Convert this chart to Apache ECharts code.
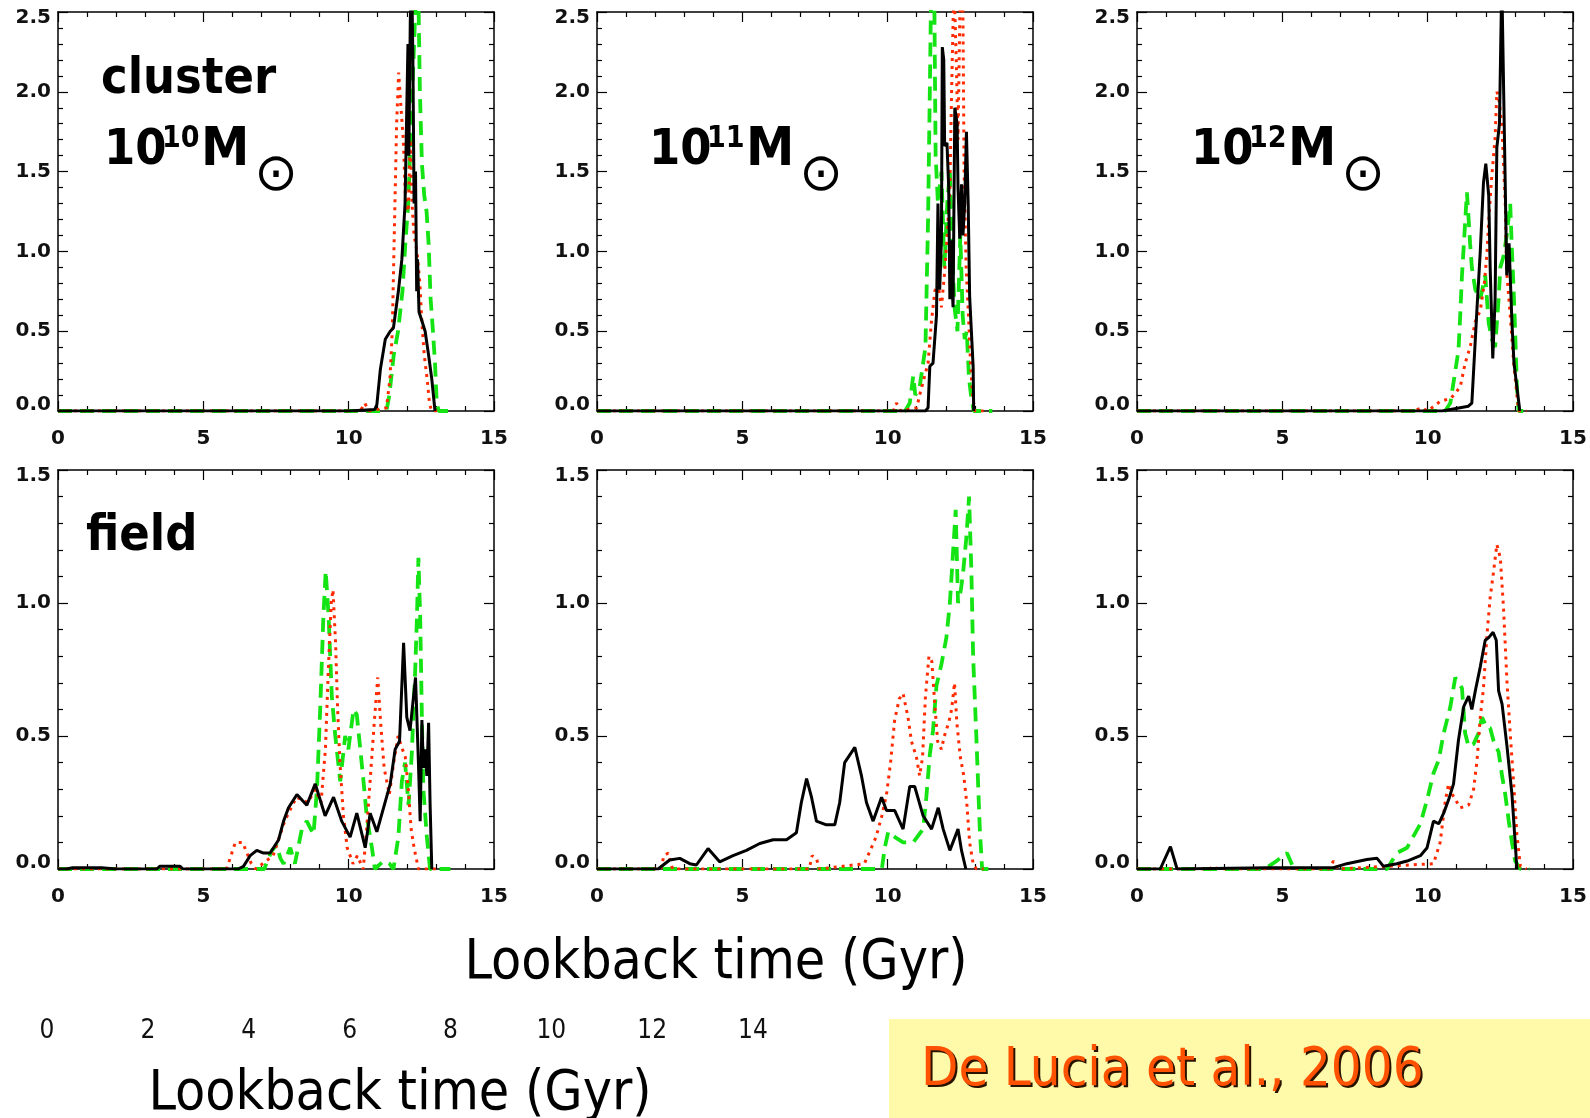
<!DOCTYPE html>
<html>
<head>
<meta charset="utf-8">
<script src="https://cdn.jsdelivr.net/npm/echarts@6/dist/echarts.min.js"></script>
<style>
html,body{margin:0;padding:0;background:#fff;}
#chart{width:1590px;height:1118px;}
</style>
</head>
<body>
<div id="chart"></div>
<script>
// ---------- data (lookback time Gyr, SFR-like normalized values) ----------
const xTicksMain = [0, 5, 10, 15];
const xTicksLower = [0, 2, 4, 6, 8, 10, 12, 14];

const c10_black = [[0,0],[10.0,0],[10.9,0.01],[10.97,0.04],[11.09,0.26],[11.26,0.45],[11.43,0.5],[11.54,0.52],[11.71,0.75],[11.83,0.95],[11.94,1.3],[12.0,1.9],[12.04,2.3],[12.07,1.6],[12.12,2.45],[12.17,2.7],[12.21,2.2],[12.25,1.3],[12.3,1.5],[12.34,0.75],[12.37,0.95],[12.42,0.62],[12.51,0.57],[12.63,0.5],[12.75,0.35],[12.86,0.2],[12.97,0]];
const c10_red = [[0,0],[10.4,0],[10.55,0.05],[10.7,0],[11.3,0.02],[11.42,0.2],[11.5,0.5],[11.58,1.2],[11.65,1.8],[11.72,2.12],[11.8,1.9],[11.88,1.7],[11.95,1.35],[12.05,1.25],[12.12,1.7],[12.18,1.3],[12.25,1.1],[12.35,1.0],[12.45,0.8],[12.52,0.55],[12.6,0.35],[12.7,0.2],[12.78,0.05],[12.85,0],[13.2,0]];
const c10_green = [[0,0],[11.3,0],[11.4,0.1],[11.55,0.35],[11.7,0.5],[11.85,0.75],[11.95,1.05],[12.05,1.3],[12.15,1.8],[12.25,2.3],[12.33,2.7],[12.4,2.6],[12.45,2.0],[12.52,1.55],[12.6,1.35],[12.68,1.25],[12.75,1.05],[12.82,0.7],[12.9,0.5],[12.97,0.3],[13.03,0.05],[13.1,0],[13.6,0]];

const c11_black = [[0,0],[11.3,0],[11.39,0.02],[11.45,0.28],[11.56,0.3],[11.68,0.6],[11.73,1.3],[11.79,0.76],[11.85,1.08],[11.88,2.28],[11.93,2.2],[11.96,1.66],[12.04,1.68],[12.1,1.4],[12.14,0.7],[12.19,1.07],[12.22,0.77],[12.25,0.65],[12.31,1.9],[12.39,1.8],[12.42,1.4],[12.48,1.08],[12.54,1.42],[12.59,1.1],[12.65,1.3],[12.71,1.75],[12.77,1.3],[12.82,0.72],[12.88,0.5],[12.94,0.28],[12.96,0]];
const c11_red = [[0,0],[10.2,0],[10.3,0.05],[10.45,0],[11.0,0.02],[11.1,0.1],[11.39,0.3],[11.5,0.55],[11.62,0.75],[11.73,0.8],[11.85,0.65],[11.95,0.85],[12.05,1.1],[12.14,1.4],[12.2,2.0],[12.28,2.7],[12.36,2.2],[12.42,1.7],[12.5,2.7],[12.58,2.7],[12.63,1.5],[12.7,0.9],[12.78,0.6],[12.85,0.3],[12.92,0.1],[13.0,0],[13.3,0]];
const c11_green = [[0,0],[10.6,0],[10.76,0.05],[10.88,0.22],[10.95,0.1],[11.1,0.15],[11.22,0.3],[11.3,0.4],[11.39,1.2],[11.45,2.0],[11.5,2.7],[11.6,2.7],[11.65,1.6],[11.73,1.3],[11.85,1.5],[11.95,0.9],[12.05,1.3],[12.14,1.5],[12.22,1.0],[12.3,0.65],[12.4,0.5],[12.5,1.1],[12.58,0.6],[12.65,0.45],[12.72,0.5],[12.8,0.2],[12.88,0.08],[12.96,0],[13.6,0]];

const c12_black = [[0,0],[10.5,0],[10.55,0.01],[11.4,0.03],[11.52,0.05],[11.58,0.25],[11.69,0.62],[11.81,1.0],[11.92,1.43],[12.0,1.55],[12.1,1.35],[12.15,0.9],[12.24,0.33],[12.32,0.7],[12.38,1.65],[12.47,1.8],[12.55,2.7],[12.61,2.7],[12.67,1.4],[12.72,0.85],[12.8,1.05],[12.9,0.55],[12.97,0.3],[13.07,0.15],[13.17,0]];
const c12_red = [[0,0],[9.5,0],[9.8,0.02],[10.0,0],[10.43,0.06],[10.8,0.08],[11.12,0.15],[11.29,0.3],[11.46,0.4],[11.64,0.56],[11.81,0.63],[11.95,0.8],[12.04,0.99],[12.12,1.25],[12.21,1.48],[12.32,1.71],[12.38,2.0],[12.44,1.97],[12.55,1.8],[12.67,1.3],[12.72,0.87],[12.84,0.6],[12.96,0.3],[13.07,0.1],[13.13,0],[13.4,0]];
const c12_green = [[0,0],[10.6,0],[10.78,0.05],[10.95,0.25],[11.06,0.38],[11.12,0.6],[11.18,0.85],[11.24,1.03],[11.35,1.37],[11.41,1.2],[11.46,1.05],[11.52,0.9],[11.64,0.76],[11.81,0.7],[11.98,0.85],[12.1,0.55],[12.21,0.45],[12.32,0.4],[12.44,0.7],[12.5,0.9],[12.61,0.97],[12.72,1.1],[12.84,1.3],[12.9,1.0],[12.96,0.75],[13.01,0.5],[13.07,0.15],[13.13,0],[13.5,0]];

const f10_black = [[0,0],[0.3,0],[0.5,0.005],[1.5,0.005],[2.0,0],[3.4,0],[3.5,0.01],[4.2,0.01],[4.3,0],[6.2,0],[6.38,0.01],[6.61,0.05],[6.84,0.07],[7.07,0.06],[7.3,0.06],[7.59,0.11],[7.76,0.18],[7.93,0.23],[8.22,0.28],[8.56,0.24],[8.85,0.32],[9.19,0.2],[9.48,0.27],[9.76,0.18],[10.05,0.12],[10.28,0.21],[10.57,0.08],[10.74,0.21],[10.97,0.14],[11.2,0.23],[11.43,0.32],[11.6,0.45],[11.75,0.48],[11.89,0.85],[12.0,0.57],[12.11,0.52],[12.3,0.72],[12.4,0.4],[12.46,0.18],[12.52,0.56],[12.57,0.38],[12.63,0.45],[12.69,0.35],[12.75,0.55],[12.8,0.25],[12.86,0]];
const f10_red = [[0,0],[5.8,0],[5.95,0.05],[6.1,0.1],[6.35,0.1],[6.5,0.06],[6.65,0.02],[6.8,0],[7.4,0.05],[7.8,0.18],[8.2,0.27],[8.6,0.25],[8.85,0.3],[9.05,0.25],[9.2,0.45],[9.3,0.75],[9.4,1.0],[9.46,1.05],[9.55,0.85],[9.62,0.6],[9.7,0.4],[9.82,0.2],[9.95,0.08],[10.15,0.02],[10.3,0.05],[10.5,0.0],[10.62,0.15],[10.75,0.35],[10.88,0.55],[11.0,0.72],[11.1,0.55],[11.22,0.38],[11.4,0.28],[11.55,0.4],[11.7,0.5],[11.85,0.45],[11.95,0.42],[12.05,0.3],[12.15,0.15],[12.25,0.08],[12.4,0.0],[13.0,0]];
const f10_green = [[0,0],[7.1,0],[7.2,0.03],[7.36,0.07],[7.53,0.09],[7.65,0.04],[7.76,0.02],[7.99,0.08],[8.15,0.02],[8.39,0.15],[8.56,0.18],[8.79,0.13],[8.91,0.3],[9.02,0.6],[9.13,0.95],[9.21,1.12],[9.31,0.95],[9.42,0.65],[9.54,0.5],[9.71,0.33],[9.88,0.5],[9.99,0.45],[10.17,0.6],[10.28,0.58],[10.4,0.45],[10.51,0.33],[10.62,0.2],[10.8,0.08],[10.9,0],[11.2,0.03],[11.4,0.02],[11.54,0],[11.71,0.12],[11.83,0.33],[11.94,0.4],[12.06,0.24],[12.17,0.43],[12.29,0.75],[12.35,0.95],[12.4,1.17],[12.46,0.95],[12.52,0.56],[12.57,0.3],[12.69,0.12],[12.8,0],[13.5,0]];

const f11_black = [[0,0],[2.1,0],[2.5,0.034],[2.85,0.04],[3.19,0.02],[3.42,0.015],[3.82,0.077],[4.22,0.027],[4.68,0.05],[5.14,0.07],[5.6,0.096],[6.06,0.11],[6.52,0.11],[6.86,0.136],[7.03,0.25],[7.21,0.34],[7.38,0.27],[7.55,0.18],[7.89,0.166],[8.18,0.166],[8.35,0.25],[8.52,0.4],[8.87,0.457],[9.1,0.35],[9.27,0.25],[9.5,0.18],[9.79,0.27],[9.96,0.22],[10.24,0.22],[10.53,0.15],[10.76,0.31],[10.93,0.31],[11.22,0.2],[11.51,0.15],[11.74,0.23],[11.91,0.15],[12.14,0.07],[12.42,0.15],[12.54,0.07],[12.69,0]];
const f11_red = [[0,0],[2.2,0],[2.3,0.05],[2.45,0.06],[2.6,0],[7.3,0],[7.4,0.05],[7.55,0.04],[7.65,0],[9.2,0.02],[9.4,0.07],[9.6,0.12],[9.8,0.2],[9.96,0.28],[10.1,0.4],[10.24,0.56],[10.4,0.64],[10.53,0.66],[10.7,0.57],[10.82,0.48],[10.99,0.42],[11.1,0.35],[11.2,0.42],[11.3,0.65],[11.42,0.8],[11.52,0.78],[11.62,0.62],[11.72,0.48],[11.85,0.45],[11.95,0.5],[12.1,0.55],[12.2,0.6],[12.3,0.7],[12.38,0.55],[12.5,0.42],[12.62,0.35],[12.72,0.25],[12.82,0.1],[12.94,0.02],[13.05,0],[13.3,0]];
const f11_green = [[0,0],[9.8,0],[9.9,0.08],[10.02,0.14],[10.25,0.12],[10.53,0.1],[10.88,0.1],[11.22,0.15],[11.33,0.27],[11.45,0.43],[11.56,0.52],[11.68,0.69],[11.85,0.77],[12.02,0.87],[12.14,1.0],[12.25,1.19],[12.34,1.35],[12.42,1.0],[12.52,1.05],[12.6,1.12],[12.71,1.25],[12.8,1.4],[12.88,1.12],[12.94,0.8],[13.05,0.5],[13.17,0.15],[13.25,0],[13.6,0]];

const f12_black = [[0,0],[0.8,0],[1.15,0.084],[1.38,0],[4.5,0.005],[6.76,0.005],[7.22,0.02],[7.91,0.036],[8.26,0.04],[8.48,0.01],[8.94,0.02],[9.29,0.03],[9.52,0.04],[9.75,0.05],[9.98,0.08],[10.2,0.18],[10.38,0.17],[10.55,0.21],[10.72,0.26],[10.89,0.32],[11.06,0.485],[11.24,0.61],[11.41,0.65],[11.52,0.6],[11.64,0.67],[11.81,0.76],[11.98,0.86],[12.1,0.87],[12.25,0.89],[12.36,0.86],[12.44,0.67],[12.56,0.62],[12.73,0.46],[12.9,0.28],[13.01,0.1],[13.07,0]];
const f12_red = [[0,0],[2.5,0],[2.6,0.01],[2.8,0],[6.6,0],[6.76,0.03],[6.9,0],[10.2,0.02],[10.43,0.1],[10.6,0.25],[10.72,0.32],[10.85,0.28],[11.12,0.23],[11.41,0.24],[11.58,0.3],[11.7,0.41],[11.81,0.57],[11.92,0.68],[12.04,0.88],[12.15,1.02],[12.27,1.12],[12.38,1.22],[12.5,1.17],[12.61,0.98],[12.73,0.7],[12.84,0.51],[12.96,0.32],[13.07,0.13],[13.19,0.01],[13.4,0]];
const f12_green = [[0,0],[4.4,0],[4.8,0.03],[5.04,0.05],[5.16,0.06],[5.4,0.0],[8.6,0],[8.94,0.06],[9.29,0.08],[9.75,0.17],[9.98,0.26],[10.2,0.36],[10.38,0.41],[10.55,0.51],[10.78,0.61],[10.95,0.72],[11.06,0.7],[11.18,0.68],[11.29,0.51],[11.41,0.46],[11.58,0.47],[11.75,0.51],[11.87,0.57],[12.04,0.53],[12.15,0.53],[12.27,0.48],[12.44,0.44],[12.56,0.35],[12.67,0.28],[12.79,0.18],[12.9,0.1],[13.01,0.03],[13.19,0],[13.5,0]];

const yMaxTop = 2.5, yMaxBottom = 1.5;

// ---------- layout / styles ----------
const COND = "'DejaVu Sans Condensed', 'DejaVu Sans', sans-serif";
const TICKFONT = "'DejaVu Sans', sans-serif";
const panels = [
  {b:c10_black, r:c10_red, g:c10_green, ymax:yMaxTop},
  {b:c11_black, r:c11_red, g:c11_green, ymax:yMaxTop},
  {b:c12_black, r:c12_red, g:c12_green, ymax:yMaxTop},
  {b:f10_black, r:f10_red, g:f10_green, ymax:yMaxBottom},
  {b:f11_black, r:f11_red, g:f11_green, ymax:yMaxBottom},
  {b:f12_black, r:f12_red, g:f12_green, ymax:yMaxBottom}
];
const colLeft = [58, 597, 1137];
const rowTop = [12, 470];
const PW = 436, PH = 399;

const axLine = {show:true, onZero:false, lineStyle:{color:'#000', width:1.5}};
const axTick = {show:true, inside:true, length:10, lineStyle:{color:'#000', width:1.2}};
const axMinor = {show:true, splitNumber:5, length:5, lineStyle:{color:'#000', width:1.2}};
const tickLabel = {fontSize:20, fontWeight:'bold', color:'#111', fontFamily:TICKFONT};

const grid = [], xAxis = [], yAxis = [], series = [];
panels.forEach((p, i) => {
  const col = i % 3, row = Math.floor(i / 3);
  grid.push({left:colLeft[col], top:rowTop[row], width:PW, height:PH, outerBoundsMode:'none', containLabel:false});
  ['bottom','top'].forEach((pos, k) => {
    xAxis.push({type:'value', gridIndex:i, position:pos, min:xTicksMain[0], max:xTicksMain[xTicksMain.length-1], interval:5,
      axisLine:axLine, axisTick:axTick, minorTick:axMinor, splitLine:{show:false}, minorSplitLine:{show:false},
      axisLabel:Object.assign({show:k===0, margin:18}, tickLabel)});
  });
  ['left','right'].forEach((pos, k) => {
    yAxis.push({type:'value', gridIndex:i, position:pos, min:0, max:p.ymax, interval:0.5,
      axisLine:axLine, axisTick:axTick, minorTick:axMinor, splitLine:{show:false}, minorSplitLine:{show:false},
      axisLabel:Object.assign({show:k===0, margin:7, lineHeight:12,
        formatter:v => v.toFixed(1), verticalAlignMinLabel:'bottom', verticalAlignMaxLabel:'top'}, tickLabel)});
  });
  const common = {type:'line', xAxisIndex:2*i, yAxisIndex:2*i, showSymbol:false, symbol:'none', clip:true, animation:false, silent:true};
  series.push(Object.assign({}, common, {data:p.g, lineStyle:{color:'#14E314', width:3.8, type:[14,8]}}));
  series.push(Object.assign({}, common, {data:p.r, lineStyle:{color:'#FF2A00', width:3, type:[3,5]}}));
  series.push(Object.assign({}, common, {data:p.b, lineStyle:{color:'#000', width:3, type:'solid'}}));
});

// lower stand-alone axis
grid.push({left:47, top:1000, width:706, height:10, outerBoundsMode:'none', containLabel:false});
xAxis.push({type:'value', gridIndex:6, position:'bottom', min:xTicksLower[0], max:xTicksLower[xTicksLower.length-1], interval:2,
  axisLine:{show:false}, axisTick:{show:false}, splitLine:{show:false},
  axisLabel:{show:true, margin:8, fontSize:26, color:'#111', fontFamily:COND},
  name:'Lookback time (Gyr)', nameLocation:'middle', nameGap:57,
  nameTextStyle:{fontSize:55, color:'#000', fontFamily:COND}});
yAxis.push({type:'value', gridIndex:6, show:false, min:0, max:1});

function massText(x, exp) {
  const t = (dx, y, text, font) => ({type:'text', x:x + dx, y:y, silent:true,
    style:{text:text, font:font, fill:'#000', verticalAlign:'middle', align:'left'}});
  return [
    t(0, 151, '10', "bold 50px " + COND),
    t(58, 139, exp, "bold 30px " + COND),
    t(97, 151, 'M', "bold 54px " + COND),
    {type:'text', x:x + 172, y:176, silent:true,
      style:{text:'⊙', font:"52px 'DejaVu Sans', sans-serif", fill:'#000', verticalAlign:'middle', align:'center'}}
  ];
}

const graphic = [
  {type:'text', x:101, y:80, silent:true, style:{text:'cluster', font:"bold 50px " + COND, fill:'#000', verticalAlign:'middle', align:'left'}},
  ...massText(104, '10'),
  ...massText(649, '11'),
  ...massText(1191, '12'),
  {type:'text', x:86, y:537, silent:true, style:{text:'field', font:"bold 50px " + COND, fill:'#000', verticalAlign:'middle', align:'left'}},
  {type:'text', x:716, y:964, silent:true, style:{text:'Lookback time (Gyr)', font:"55px " + COND, fill:'#000', verticalAlign:'middle', align:'center'}},
  {type:'rect', shape:{x:889, y:1019, width:701, height:99}, silent:true, style:{fill:'#FFFAAA'}},
  {type:'text', x:923, y:1073, silent:true, style:{text:'De Lucia et al., 2006', font:"54px " + COND, fill:'#2a1200',
    verticalAlign:'middle', align:'left'}},
  {type:'text', x:921, y:1071, silent:true, style:{text:'De Lucia et al., 2006', font:"54px " + COND, fill:'#FF5200',
    verticalAlign:'middle', align:'left'}}
];

const chart = echarts.init(document.getElementById('chart'), null, {renderer:'canvas'});
chart.setOption({
  animation:false,
  backgroundColor:'#fff',
  grid, xAxis, yAxis, series, graphic
});
</script>
</body>
</html>
